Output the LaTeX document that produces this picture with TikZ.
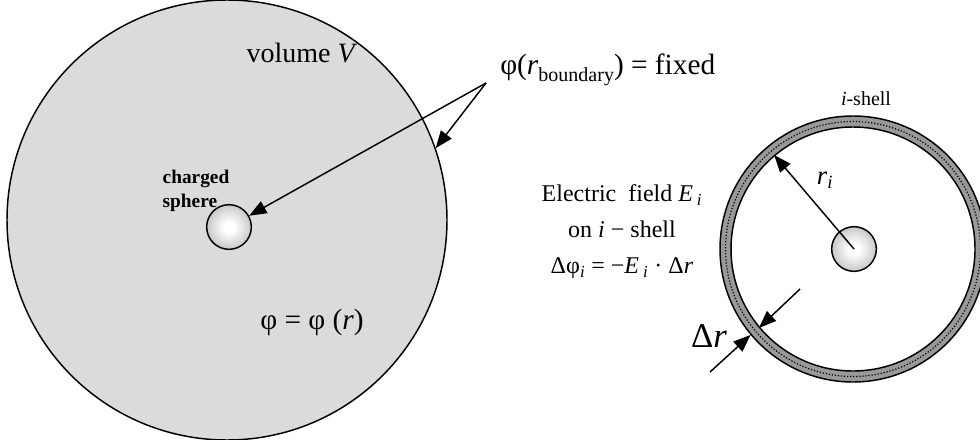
\documentclass[tikz,border=0pt]{standalone}
\usepackage{fontspec}
\setmainfont{Liberation Serif}
\usetikzlibrary{arrows.meta}
\pgfdeclareradialshading{sphball}{\pgfpoint{0bp}{0bp}}{color(0bp)=(white); color(6bp)=(white); color(50bp)=(black!50)}
\begin{document}
\begin{tikzpicture}[x=0.75pt,y=-0.75pt,
  arr/.style={line width=1.1pt, -{Triangle[length=13pt,width=10pt]}},
  sph/.style={circle, draw, line width=1.1pt, shading=sphball, minimum size=33.5pt, inner sep=0pt},
  ring/.style={circle, draw, line width=1.1pt, inner sep=0pt},
  lab/.style={inner sep=0pt}]
\useasboundingbox (0,0) rectangle (980,439);
% left: volume
\node[ring, fill=black!14, minimum size=330pt] (vol) at (227,220) {};
\node[sph] (s1) at (229,227) {};
\coordinate (src) at (486,83);
\draw[arr] (src) -- (s1);
\draw[arr] (src) -- (vol.19.5);
\node[lab, font=\fontsize{21}{25}\selectfont] (volV) at (302,53) {volume \textit{V}};
\node[lab, font=\fontsize{22}{26}\selectfont, anchor=west] (bnd) at (500,70) {φ(\textit{r}\raisebox{-0.22em}{\fontsize{15}{18}\selectfont boundary}) = fixed};
\node[lab, font=\bfseries\fontsize{14.5}{18}\selectfont, align=left] (chg) at (196,191) {charged\\sphere};
\node[lab, font=\fontsize{22}{26}\selectfont] (phir) at (312,322) {φ = φ (\textit{r})};
% right: shell
\node[ring, fill=black!40, minimum size=199.5pt] (shellout) at (853,249) {};
\node[ring, draw=black, line width=0.9pt, dash pattern=on 0.9pt off 1.4pt, minimum size=191.25pt] (shellmid) at (853,249) {};
\node[ring, fill=white, minimum size=183pt] (shellin) at (853,249) {};
\node[sph] (s2) at (854,249) {};
\draw[arr] (s2.center) -- (shellin.130);
\coordinate (dra) at (710,372);
\coordinate (drb) at (800,289);
\draw[arr] (dra) -- (shellout.220);
\draw[arr] (drb) -- (shellin.220);
\node[lab, font=\fontsize{18}{27}\selectfont, align=center] (ef) at (622,232) {Electric\ \ field \textit{E}\,\textsubscript{\textit{i}}\\on \textit{i} − shell\\Δφ\textsubscript{\textit{i}} = −\textit{E}\,\textsubscript{\textit{i}} · Δ\textit{r}};
\node[lab, font=\fontsize{15}{18}\selectfont] (ish) at (866,99) {\textit{i}-shell};
\node[lab, font=\fontsize{20}{24}\selectfont] (ri) at (825,180) {\textit{r}\textsubscript{\textit{i}}};
\node[lab, font=\fontsize{26}{30}\selectfont] (dr) at (709,336) {Δ\textit{r}};
\end{tikzpicture}
\end{document}
